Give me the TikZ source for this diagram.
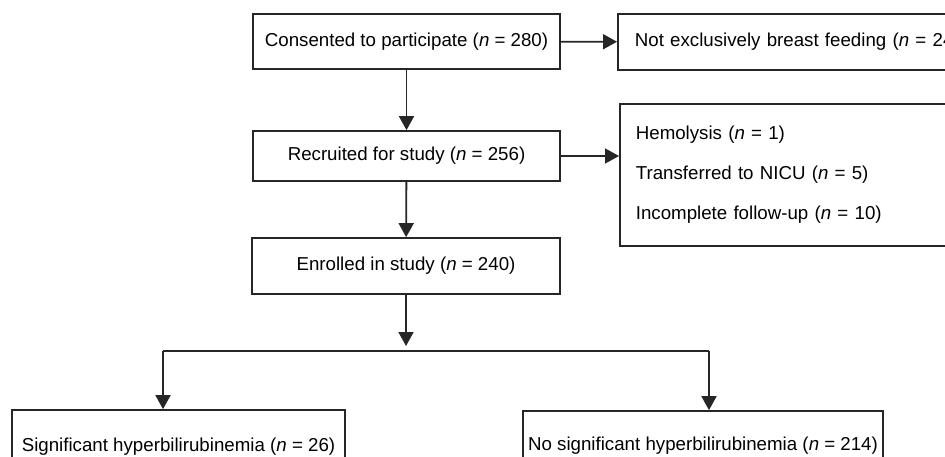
\documentclass[tikz,border=0pt]{standalone}
\usepackage{fontspec}
\setmainfont{Liberation Sans}
\usetikzlibrary{positioning}
\usetikzlibrary{arrows.meta}
\tikzset{
    box/.style = {rectangle, line width=1.7pt, draw=black!85, align=center, inner xsep=8pt, font=\fontsize{18.7}{22}\selectfont},
    boxl/.style = {rectangle, line width=1.7pt, draw=black!85, align=left, anchor=west, inner xsep=16pt, font=\fontsize{18.7}{40}\selectfont},
    edgen/.style = {-{Triangle[width=15pt,length=14pt]}, line width=1.8pt, draw=black!85},
    linen/.style = {line width=1.8pt, draw=black!85}
}
\begin{document}
\begin{tikzpicture}[x=1pt,y=-1pt]
\useasboundingbox (0,0) rectangle (945,457);
\clip (0,0) rectangle (945,457);
%
\node[box, minimum width=307pt, minimum height=55pt] at (406.5,41.5) (consent) {Consented to participate (\textit{n} = 280)};
\node[boxl, text width=380pt, minimum height=56pt, inner xsep=17pt] at (617,42) (notbf) {Not exclusively breast feeding (\textit{n} = 24)};
\node[boxl, text width=340pt, minimum height=142pt] at (619,175) (excl) {Hemolysis (\textit{n} = 1)\\Transferred to NICU (\textit{n} = 5)\\Incomplete follow-up (\textit{n} = 10)};
\node[box, minimum width=307pt, minimum height=50pt] at (406.5,156) (recruit) {Recruited for study (\textit{n} = 256)};
\node[box, minimum width=308pt, minimum height=56pt] at (406,266) (enrol) {Enrolled in study (\textit{n} = 240)};
\node[box, minimum width=333pt, minimum height=74pt] at (178.5,447) (sig) {Significant hyperbilirubinemia (\textit{n} = 26)};
\node[box, minimum width=360pt, minimum height=70pt, inner xsep=3pt] at (703,446) (nosig) {No significant hyperbilirubinemia (\textit{n} = 214)};
%
\coordinate (split) at (406,351);
\coordinate (jl) at (163,351);
\coordinate (jr) at (709,351);
%
\draw[edgen] (consent) -- (notbf);
\draw[edgen] (consent) -- (recruit);
\draw[edgen] (recruit.east) -- (recruit.east -| excl.west);
\draw[edgen] (recruit) -- (enrol);
\draw[edgen, shorten >=5pt] (enrol) -- (split);
\draw[linen] (jl) -- (jr);
\draw[edgen] (jl) -- (jl |- sig.north);
\draw[edgen] (jr) -- (jr |- nosig.north);

\end{tikzpicture}
\end{document}
